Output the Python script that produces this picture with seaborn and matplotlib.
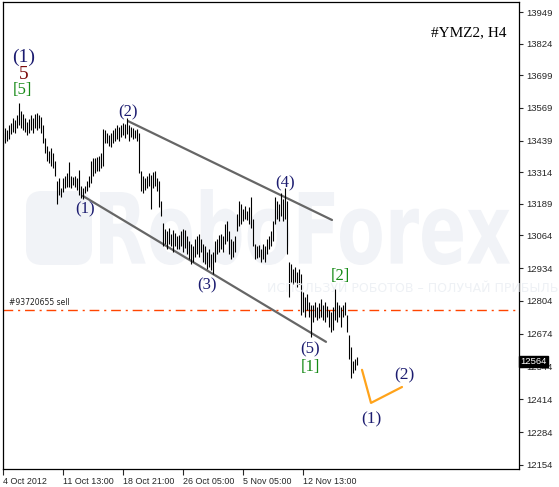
import matplotlib
matplotlib.use("Agg")
import matplotlib.pyplot as plt
import seaborn as sns
import numpy as np
from matplotlib.textpath import TextPath
from matplotlib.patches import PathPatch, FancyBboxPatch
from matplotlib.font_manager import FontProperties
from matplotlib.transforms import Affine2D, blended_transform_factory

# H4 bars of #YMZ2, highs and lows
highs = [
    13470, 13490, 13480, 13500, 13510, 13530, 13520, 13540, 13590, 13555,
    13545, 13530, 13515, 13525, 13540, 13530, 13545, 13550, 13540, 13535,
    13500, 13450, 13420, 13400, 13410, 13390, 13360, 13280, 13290, 13250,
    13290, 13300, 13310, 13355, 13300, 13295, 13300, 13290, 13325, 13260,
    13250, 13260, 13280, 13300, 13360, 13370, 13370, 13375, 13380, 13390,
    13485, 13480, 13470, 13460, 13470, 13480, 13490, 13500, 13495, 13500,
    13510, 13505, 13530, 13500, 13495, 13490, 13480, 13485, 13470, 13320,
    13300, 13290, 13300, 13310, 13305, 13315, 13320, 13290, 13280, 13200,
    13115, 13090, 13080, 13095, 13070, 13085, 13075, 13060, 13065, 13080,
    13090, 13085, 13060, 13040, 13030, 13020, 13050, 13060, 13070, 13050,
    13030, 13020, 13000, 13010, 12990, 13000, 13040, 13050, 13065, 13070,
    13060, 13110, 13120, 13080, 13050, 13040, 13060, 13150, 13200, 13190,
    13170, 13180, 13160, 13175, 13215, 13130, 13030, 13020, 13025, 13010,
    13030, 13020, 13050, 13060, 13080, 13120, 13215, 13200, 13190, 13230,
    13210, 13250, 13200, 12960, 12950, 12930, 12940, 12920, 12930, 12910,
    12840, 12820, 12830, 12800, 12790, 12790, 12800, 12780, 12795, 12810,
    12790, 12800, 12785, 12770, 12760, 12780, 12850, 12800, 12790, 12780,
    12790, 12800, 12750, 12670, 12620, 12565, 12575, 12580]

lows = [
    13420, 13430, 13440, 13445, 13465, 13475, 13470, 13490, 13500, 13490,
    13480, 13475, 13460, 13470, 13480, 13470, 13490, 13480, 13490, 13470,
    13430, 13390, 13360, 13350, 13340, 13330, 13300, 13190, 13225, 13215,
    13235, 13250, 13255, 13255, 13250, 13262, 13255, 13245, 13225, 13212,
    13210, 13230, 13240, 13255, 13270, 13300, 13310, 13320, 13320, 13330,
    13340, 13430, 13430, 13420, 13415, 13430, 13440, 13445, 13440, 13455,
    13460, 13450, 13465, 13440, 13455, 13445, 13450, 13440, 13310, 13240,
    13230, 13245, 13250, 13260, 13170, 13250, 13260, 13240, 13175, 13140,
    13020, 13030, 13010, 13030, 13020, 13000, 13020, 13010, 13010, 13020,
    13000, 13015, 12990, 12970, 12950, 12960, 12980, 12990, 12980, 13000,
    12960, 12950, 12930, 12940, 12925, 12910, 12960, 12990, 13000, 13010,
    13000, 13030, 13040, 12990, 12970, 12980, 13000, 13080, 13100, 13110,
    13120, 13130, 13125, 13110, 13095, 13020, 12970, 12975, 12980, 12960,
    12970, 12960, 12990, 13010, 13020, 13040, 13110, 13130, 13120, 13140,
    13120, 13130, 12990, 12820, 12880, 12870, 12880, 12860, 12870, 12750,
    12760, 12740, 12770, 12740, 12660, 12720, 12740, 12730, 12735, 12740,
    12730, 12720, 12740, 12700, 12680, 12690, 12730, 12720, 12740, 12700,
    12740, 12750, 12680, 12575, 12500, 12520, 12530, 12550]

bar_index = list(range(len(highs)))

x_tick_pos = [0, 30, 60, 90, 120, 150]
x_tick_labels = ['4 Oct 2012', '11 Oct 13:00', '18 Oct 21:00', '26 Oct 05:00',
                 '5 Nov 05:00', '12 Nov 13:00']
y_ticks = [12154, 12284, 12414, 12544, 12674, 12804, 12934, 13064, 13189,
           13314, 13439, 13569, 13699, 13824, 13949]

last_price = 12564
order_price = 12768
order_label = '#93720655 sell'

# channel lines (bar index, price)
upper_x = [62.5, 164.5]
upper_y = [13517, 13125]
lower_x = [40, 161.5]
lower_y = [13220, 12642]

# forecast zigzag
fc_x = [179.5, 184, 199.5]
fc_y = [12531, 12400, 12463]

# wave labels: text, bar index, price, colour, size
navy = '#1c1c70'
green = '#168a16'
wave_labels = [
    ('(1)', 10.5, 13771, navy, 14),
    ('5', 10.5, 13703, '#7a0a0a', 14),
    ('[5]', 9.5, 13640, green, 12),
    ('(2)', 62.5, 13553, navy, 12),
    ('(1)', 41, 13168, navy, 12),
    ('(3)', 102, 12867, navy, 12),
    ('(4)', 141, 13271, navy, 12),
    ('(5)', 153.5, 12614, navy, 12),
    ('[1]', 153.5, 12543, green, 12),
    ('[2]', 168.5, 12903, green, 12),
    ('(1)', 184, 12336, navy, 12.5),
    ('(2)', 200.5, 12511, navy, 12.5),
]

sns.set_style('white')
W, H = 559, 487
fig = plt.figure(figsize=(W / 100, H / 100), dpi=100)
ax = fig.add_axes([3 / W, 18 / H, 516 / W, 467 / H])
px = Affine2D().scale(1 / W, 1 / H) + fig.transFigure

# watermark
wm_col = '#f1f3f7'
logo = FancyBboxPatch((26, 222), 66, 74, boxstyle='round,pad=0,rounding_size=16',
                      transform=px, facecolor=wm_col, edgecolor='none', zorder=0)
ax.add_artist(logo)
tp = TextPath((0, 0), 'RoboForex', size=100,
              prop=FontProperties(family='DejaVu Sans', weight='bold'))
ext = tp.get_extents()
tr = (Affine2D().translate(-ext.x0, -ext.y0)
      .scale(410 / ext.width, 76 / ext.height).translate(100, 222)) + px
wm = PathPatch(tp, transform=tr, facecolor=wm_col, edgecolor='none', zorder=0)
ax.add_artist(wm)
fig.text(267 / W, 1 - 289 / H, 'ИСПОЛЬЗУЙ РОБОТОВ – ПОЛУЧАЙ ПРИБЫЛЬ', fontsize=9,
         color='#eef1f5', va='center', ha='left', zorder=0)

# bars
ax.vlines(bar_index, lows, highs, color='black', lw=0.8, zorder=3)

# channel and forecast
sns.lineplot(x=upper_x, y=upper_y, ax=ax, color='#666666', lw=1.6, sort=False,
             estimator=None, zorder=2)
sns.lineplot(x=lower_x, y=lower_y, ax=ax, color='#666666', lw=1.6, sort=False,
             estimator=None, zorder=2)
sns.lineplot(x=fc_x, y=fc_y, ax=ax, color='#ffa31a', lw=1.6, sort=False,
             estimator=None, zorder=2)

# order line
ax.axhline(order_price, color='#ff4500', lw=1, ls=(0, (7, 3.5, 1.5, 3.5)), zorder=2)
ax.text(3, order_price + 12, order_label, fontsize=5.5, color='#222222',
        family='DejaVu Sans', va='bottom', ha='left')

for txt, xi, yv, col, sz in wave_labels:
    ax.text(xi, yv, txt, color=col, fontsize=sz, family='Liberation Serif',
            ha='center', va='center', zorder=4)

ax.text(0.975, 0.935, '#YMZ2, H4', transform=ax.transAxes, fontsize=11,
        family='Liberation Serif', ha='right', va='center', color='black')

ax.set_xlim(0, 258)
ax.set_ylim(12138, 13989)

ax.set_xticks(x_tick_pos)
ax.set_xticklabels(x_tick_labels, ha='left', fontsize=6.4, family='Liberation Sans')
ax.yaxis.tick_right()
ax.set_yticks(y_ticks)
ax.set_yticklabels([str(v) for v in y_ticks], fontsize=6.8, family='Liberation Sans')
ax.tick_params(axis='x', direction='out', length=4, width=0.8, pad=2, bottom=True)
ax.tick_params(axis='y', direction='out', length=3, width=0.8, pad=2, right=True, left=False)
for s in ax.spines.values():
    s.set_color('black')
    s.set_linewidth(0.9)

# current price tag
tb = blended_transform_factory(ax.transAxes, ax.transData)
ax.text(1.003, last_price, str(last_price), transform=tb, fontsize=6.8,
        family='Liberation Sans', color='white', va='center', ha='left',
        bbox=dict(boxstyle='square,pad=0.15', fc='black', ec='black'),
        clip_on=False, zorder=10)

fig.savefig('out.png', dpi=100)
